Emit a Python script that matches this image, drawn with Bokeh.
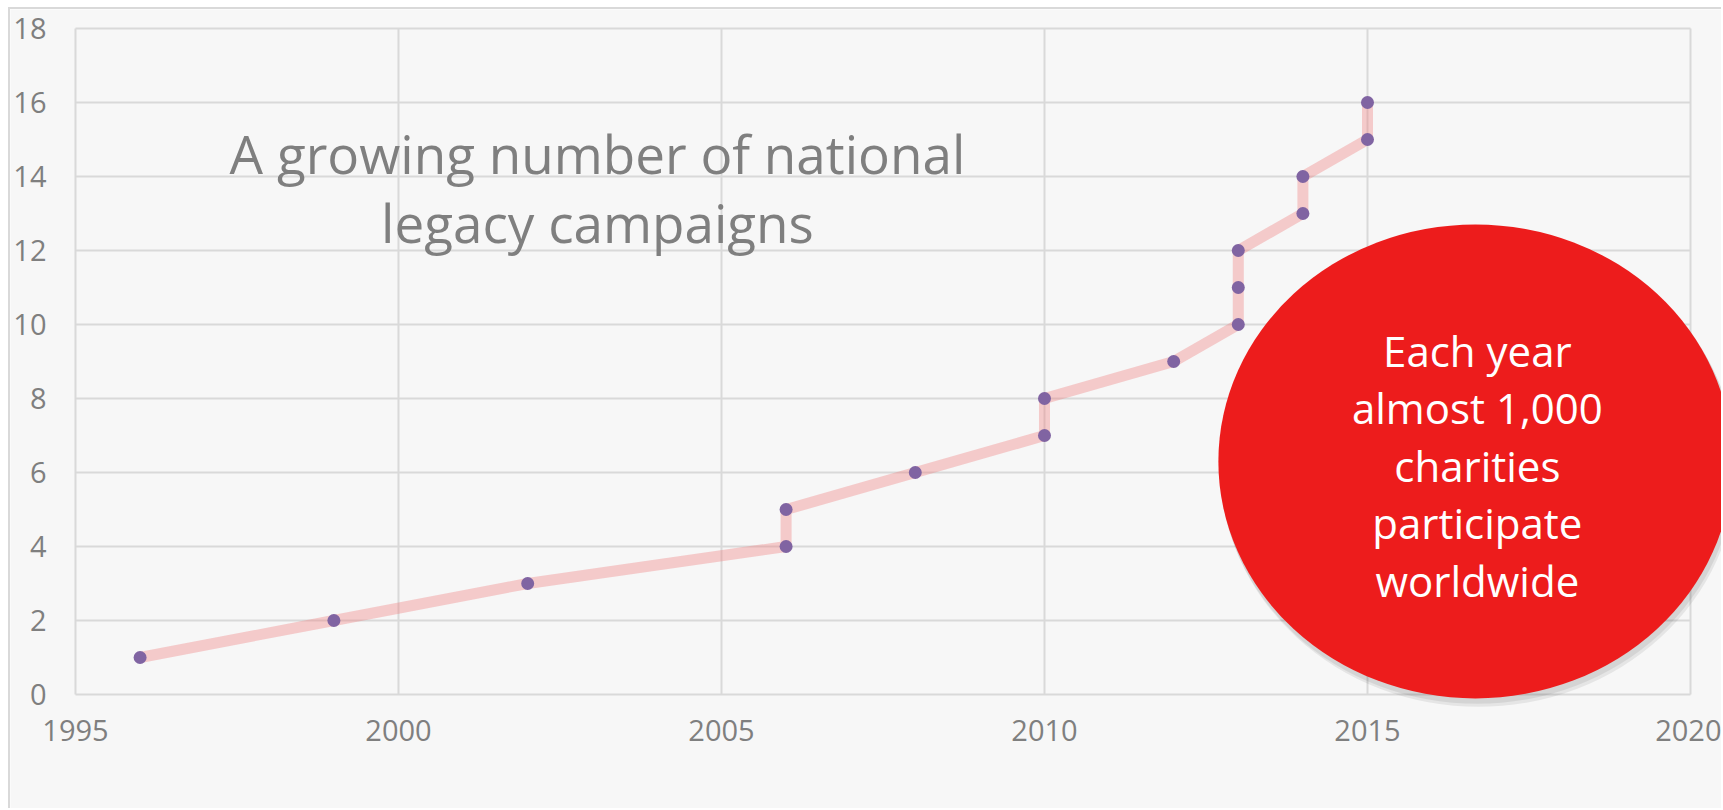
from bokeh.plotting import figure
from bokeh.models import Range1d, FixedTicker, Label
from bokeh.embed import file_html
from bokeh.resources import INLINE

# ---- data ----
years = [1996, 1999, 2002, 2006, 2006, 2008, 2010, 2010, 2012, 2013, 2013, 2013, 2014, 2014, 2015, 2015]
campaigns = [1, 2, 3, 4, 5, 6, 7, 8, 9, 10, 11, 12, 13, 14, 15, 16]
x_ticks = [1995, 2000, 2005, 2010, 2015, 2020]
y_ticks = [0, 2, 4, 6, 8, 10, 12, 14, 16, 18]
title_lines = ["A growing number of national", "legacy campaigns"]
bubble_lines = ["Each year", "almost 1,000", "charities", "participate", "worldwide"]

FONT = "Open Sans"
GRAY = "#7f7f7f"
GRID = "#d9d9d9"
BG = "#f7f7f7"

p = figure(width=1713, height=801,
           x_range=Range1d(1993.994, 2020.511), y_range=Range1d(-3.135, 18.514),
           output_backend="svg", toolbar_location=None, title=None,
           min_border_left=0, min_border_right=0, min_border_top=0, min_border_bottom=0)
p.background_fill_color = BG
p.border_fill_color = BG
p.outline_line_color = None
p.grid.visible = False
p.styles = {"margin-left": "8px", "margin-top": "7px",
            "border-left": "2px solid #d9d9d9", "border-top": "2px solid #d9d9d9"}

# axes drawn inside the frame at the data origin
p.xaxis.fixed_location = y_ticks[0]
p.yaxis.fixed_location = x_ticks[0]
for ax in (p.xaxis, p.yaxis):
    ax.axis_line_color = None
    ax.major_tick_line_color = None
    ax.minor_tick_line_color = None
    ax.major_tick_out = 0
    ax.major_tick_in = 0
    ax.major_label_text_font = FONT
    ax.major_label_text_font_size = "29px"
    ax.major_label_text_color = GRAY
p.xaxis.ticker = FixedTicker(ticks=x_ticks)
p.yaxis.ticker = FixedTicker(ticks=y_ticks)
p.xaxis.major_label_standoff = 25
p.yaxis.major_label_standoff = 29

# gridlines limited to the data area
x0, x1 = x_ticks[0], x_ticks[-1]
y0, y1 = y_ticks[0], y_ticks[-1]
p.segment(x0=x_ticks, y0=[y0] * len(x_ticks), x1=x_ticks, y1=[y1] * len(x_ticks),
          line_color=GRID, line_width=2)
p.segment(x0=[x0] * len(y_ticks), y0=y_ticks, x1=[x1] * len(y_ticks), y1=y_ticks,
          line_color=GRID, line_width=2)

# series
p.line(years, campaigns, line_color="#F08080", line_alpha=0.38, line_width=11)
p.scatter(years, campaigns, size=13, fill_color="#8064A2", line_color=None)

# title text
for i, t in enumerate(title_lines):
    p.add_layout(Label(x=2003.08, y=14.24, y_offset=14 - 69 * i, text=t,
                       text_align="center", text_baseline="alphabetic",
                       text_font=FONT, text_font_size="53px", text_color=GRAY))

# red bubble with soft shadow
cx, cy = 2016.67, 6.30
p.ellipse(x=[cx + 0.05, cx + 0.03], y=[cy - 0.2, cy - 0.12], width=516, height=476,
          width_units="screen", height_units="screen",
          fill_color="black", fill_alpha=0.07, line_color=None)
p.ellipse(x=cx, y=cy, width=514, height=474, width_units="screen", height_units="screen",
          fill_color="#ED1C1C", line_color=None)
for i, t in enumerate(bubble_lines):
    p.add_layout(Label(x=cx, y=cy, x_offset=2, y_offset=111 - 57.5 * i, text=t,
                       text_align="center", text_baseline="alphabetic",
                       text_font=FONT, text_font_size="42px", text_color="white"))

open("out.html", "w").write(file_html(p, INLINE))
